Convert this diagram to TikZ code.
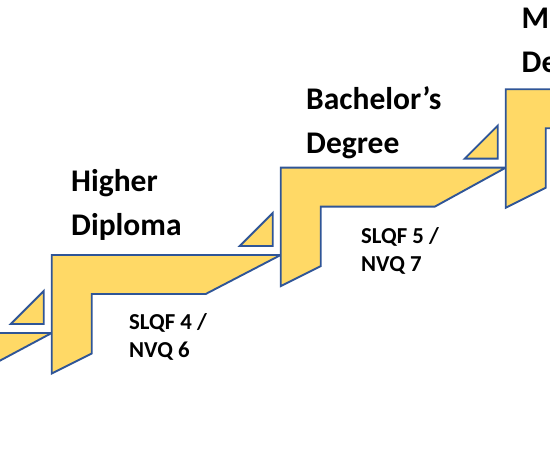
\documentclass[tikz,border=0pt]{standalone}
\usepackage{fontspec}
\setmainfont{Carlito}

\definecolor{stepfill}{HTML}{FFD966}
\definecolor{stepline}{HTML}{2F5597}

\tikzset{
  stair/.style={fill=stepfill, draw=stepline, line width=1.9pt, line join=miter},
  level/.style={anchor=base west, inner sep=0pt, align=left, font=\bfseries\fontsize{31.5}{44}\selectfont},
  qual/.style={anchor=base west, inner sep=0pt, align=left, font=\bfseries\fontsize{22.8}{27.7}\selectfont}
}

\begin{document}
\begin{tikzpicture}[x=1pt, y=-1pt]
            \useasboundingbox (0,0) rectangle (550,465);
            \foreach \x/\y/\nx in {-175.3/333/51.7, 51.7/255/280.7, 280.7/167.7/505.7, 505.7/89.3/735}
                \draw[stair] (\x,\y) -- (\nx,\y) -- (\x+154,\y+39) -- (\x+40,\y+39)
                    -- (\x+40,\y+98.5) -- (\x,\y+118.5) -- cycle;
            \foreach \y/\nx in {333/51.7, 255/280.7, 167.7/505.7}
                \draw[stair] (\nx-41,\y-9) -- (\nx-8,\y-42) -- (\nx-8,\y-9) -- cycle;
            \node[level] (HD) at (71,235.3) {Higher\\Diploma};
            \node[level] (BD) at (306,154) {Bachelor’s\\Degree};
            \node[level] (MD) at (521.5,73) {Master’s\\Degree};
            \node[qual] (HDq) at (129,357.7) {SLQF 4 /\\NVQ 6};
            \node[qual] (BDq) at (361,271.7) {SLQF 5 /\\NVQ 7};
        \end{tikzpicture}
\end{document}
